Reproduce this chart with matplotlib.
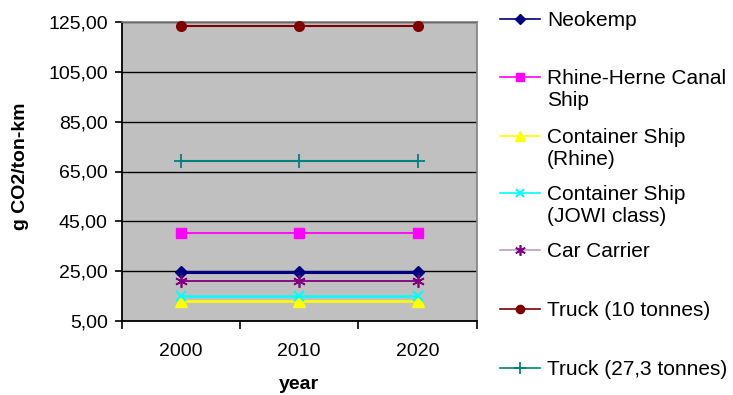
import matplotlib
matplotlib.use("Agg")
import matplotlib.pyplot as plt
from matplotlib.lines import Line2D
from matplotlib.ticker import FixedLocator, FuncFormatter

plt.rcParams['font.family'] = ['Liberation Sans', 'DejaVu Sans']

years = ["2000", "2010", "2020"]
neokemp = [24.5, 24.5, 24.5]
rhine_herne = [40.3, 40.3, 40.3]
container_rhine = [13.0, 13.0, 13.0]
container_jowi = [14.8, 14.8, 14.8]
car_carrier = [20.8, 20.8, 20.8]
truck_10 = [123.4, 123.4, 123.4]
truck_27 = [69.3, 69.3, 69.3]

series = [
    ("Neokemp", neokemp, dict(color="#000080", marker="D", ms=6, lw=2.2, mec="#000080")),
    ("Rhine-Herne Canal\nShip", rhine_herne, dict(color="#FF00FF", marker="s", ms=7, lw=1.3)),
    ("Container Ship\n(Rhine)", container_rhine, dict(color="#FFFF00", marker="^", ms=8, lw=1.8)),
    ("Container Ship\n(JOWI class)", container_jowi, dict(color="#00FFFF", marker="x", ms=7, mew=1.5, lw=1.8)),
    ("Car Carrier", car_carrier, dict(color="#800080", marker=(6, 2, 0), ms=9, mew=1.2, lw=1.3)),
    ("Truck (10 tonnes)", truck_10, dict(color="#800000", marker="o", ms=7, lw=1.5)),
    ("Truck (27,3 tonnes)", truck_27, dict(color="#008080", marker="+", ms=10, mew=1.3, lw=1.5)),
]

W, H = 733, 395
fig = plt.figure(figsize=(W / 100, H / 100), dpi=100)
ax = fig.add_axes([121.7 / W, 1 - 320.7 / H, (476.7 - 121.7) / W, (320.7 - 22.3) / H])
ax.set_facecolor("#C0C0C0")

x = list(range(len(years)))
for label, vals, style in series:
    ax.plot(x, vals, zorder=3, clip_on=False, **style)

ax.set_xlim(-0.5, len(years) - 0.5)
ax.set_ylim(5, 125)
yt = list(range(5, 126, 20))
ax.yaxis.set_major_locator(FixedLocator(yt))
ax.yaxis.set_major_formatter(FuncFormatter(lambda v, p: f"{v:.2f}".replace(".", ",")))
ax.grid(axis="y", color="black", lw=1.0, zorder=1)

ax.set_xticks(x)
ax.set_xticklabels(years)
ax.set_xticks([i - 0.5 for i in range(len(years) + 1)], minor=True)
ax.tick_params(axis="x", which="major", length=0, pad=16, labelsize=14)
ax.tick_params(axis="x", which="minor", length=6, width=1.2, direction="out")
ax.tick_params(axis="y", length=5, width=1.2, direction="out", pad=5, labelsize=14)

for side in ("top", "right"):
    ax.spines[side].set_color("#808080")
    ax.spines[side].set_linewidth(1.2)
for side in ("left", "bottom"):
    ax.spines[side].set_color("black")
    ax.spines[side].set_linewidth(1.3)

ax.set_ylabel("g CO2/ton-km", fontsize=14, fontweight="bold")
ax.yaxis.set_label_coords(-0.262, 0.518)
ax.set_xlabel("year", fontsize=14, fontweight="bold")
ax.xaxis.set_label_coords(0.5, -0.185)

# legend drawn entry by entry so the handle sits on the first text line
handle_y = [19, 77, 136, 193, 250, 309, 368]
for (label, vals, style), hy in zip(series, handle_y):
    yf = 1 - hy / H
    st = dict(style)
    st["ms"] = st.get("ms", 6) * 0.85
    st["lw"] = 1.2
    if label == "Car Carrier":
        st["color"] = "#C0A0C0"
        st["mfc"] = "#800080"
        st["mec"] = "#800080"
    ln = Line2D([500 / W, 540 / W], [yf, yf], transform=fig.transFigure, **{k: v for k, v in st.items() if k not in ("marker", "ms", "mew", "mec", "mfc")})
    fig.add_artist(ln)
    mk = Line2D([520 / W], [yf], transform=fig.transFigure, linestyle="none",
                **{k: v for k, v in st.items() if k != "lw"})
    fig.add_artist(mk)
    fig.text(547 / W, 1 - (hy - 8) / H, label, fontsize=15, va="top", ha="left",
             linespacing=1.2)

fig.savefig("out.png", dpi=100)
